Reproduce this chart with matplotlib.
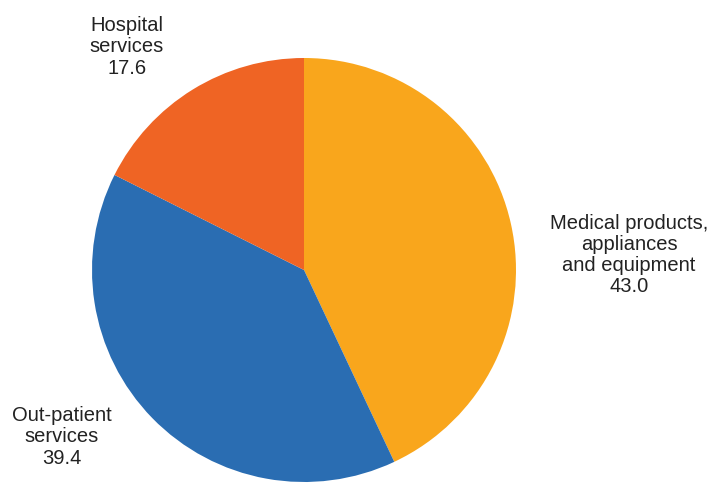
import matplotlib.pyplot as plt

# Shares of spending by category
labels = ['Medical products,\nappliances\nand equipment', 'Out-patient\nservices', 'Hospital\nservices']
values = [43.0, 39.4, 17.6]
colors = ['#F9A61C', '#2A6DB2', '#EF6424']
label_pos = [(629, 228), (62, 46), (127, 436)]

plt.rcParams['font.family'] = ['Liberation Sans', 'DejaVu Sans']

fig = plt.figure(figsize=(7.11, 4.83), dpi=100)
ax = fig.add_axes([0, 0, 1, 1])
ax.pie(values, colors=colors, startangle=90, counterclock=False,
       center=(304, 213), radius=212, frame=True,
       wedgeprops=dict(linewidth=0))
ax.set_xlim(0, 711)
ax.set_ylim(0, 483)
ax.set_aspect('equal')
ax.axis('off')

for lab, val, (x, y) in zip(labels, values, label_pos):
    ax.text(x, y, '%s\n%.1f' % (lab, val), ha='center', va='center',
            fontsize=14.5, color='#222222', linespacing=1.15)

fig.savefig('out.png', dpi=100, facecolor='white')
